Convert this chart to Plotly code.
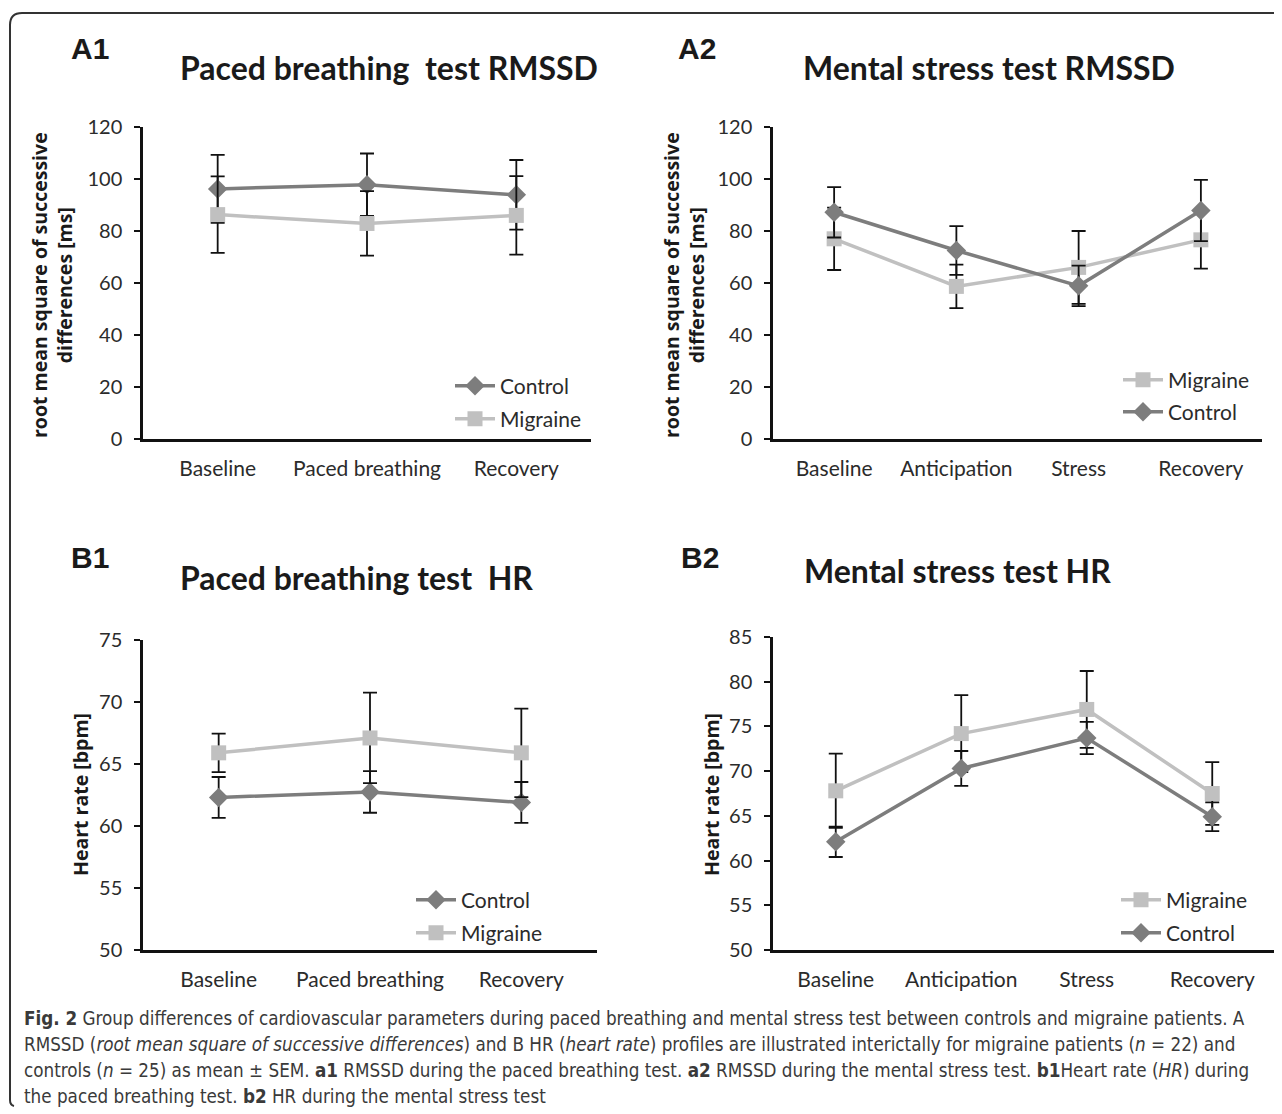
import plotly.graph_objects as go

W, H = 1282, 1114
OFF = 8  # page body margin compensation

# ---------------- data ----------------
pb_cats = ["Baseline", "Paced breathing", "Recovery"]
ms_cats = ["Baseline", "Anticipation", "Stress", "Recovery"]

a1_control = [96.2, 97.8, 93.9]
a1_control_sem = [13.1, 12.0, 13.4]
a1_migraine = [86.3, 82.9, 86.0]
a1_migraine_sem = [14.7, 12.4, 15.1]

a2_control = [87.2, 72.5, 58.9, 87.9]
a2_control_sem = [9.7, 9.4, 7.8, 11.8]
a2_migraine = [77.0, 58.7, 66.0, 76.6]
a2_migraine_sem = [12.0, 8.4, 14.0, 11.1]

b1_control = [62.3, 62.75, 61.9]
b1_control_sem = [1.65, 1.68, 1.65]
b1_migraine = [65.9, 67.1, 65.9]
b1_migraine_sem = [1.55, 3.65, 3.57]

b2_control = [62.1, 70.3, 73.7, 64.9]
b2_control_sem = [1.7, 1.95, 1.8, 1.6]
b2_migraine = [67.8, 74.2, 76.9, 67.5]
b2_migraine_sem = [4.15, 4.3, 4.3, 3.5]

rmssd_ticks = [0, 20, 40, 60, 80, 100, 120]
a_hr_ticks = [50, 55, 60, 65, 70, 75]
b_hr_ticks = [50, 55, 60, 65, 70, 75, 80, 85]

panel_titles = ["Paced breathing  test RMSSD", "Mental stress test RMSSD",
                "Paced breathing test  HR", "Mental stress test HR"]
panel_labels = ["A1", "A2", "B1", "B2"]
y_titles = ["root mean square of successive<br>differences [ms]",
            "root mean square of successive<br>differences [ms]",
            "Heart rate [bpm]", "Heart rate [bpm]"]

# ---------------- style ----------------
CTRL = "#7d7d7d"
MIGR = "#c0c0c0"
TXT = "#2b2b2b"
FONT = "Lato, Open Sans, sans-serif"


def px_x(x):
    return (x - OFF) / W


def px_y(y):
    return 1 - (y - OFF) / H


# panel boxes in pixels: (x0, x1, ytop, ybottom)
boxes = [(143, 591, 127, 439), (773, 1262, 127, 439),
         (143, 597, 640, 950), (773, 1275, 637, 950)]

fig = go.Figure()

panels = [
    (pb_cats, [("Control", a1_control, a1_control_sem), ("Migraine", a1_migraine, a1_migraine_sem)]),
    (ms_cats, [("Migraine", a2_migraine, a2_migraine_sem), ("Control", a2_control, a2_control_sem)]),
    (pb_cats, [("Control", b1_control, b1_control_sem), ("Migraine", b1_migraine, b1_migraine_sem)]),
    (ms_cats, [("Migraine", b2_migraine, b2_migraine_sem), ("Control", b2_control, b2_control_sem)]),
]
ranges = [(0, 120), (0, 120), (50, 75), (50, 85)]
ticks = [rmssd_ticks, rmssd_ticks, a_hr_ticks, b_hr_ticks]
# legend anchor (x of symbol start, y of first item, y of second item)
legend_pos = [(450, 386, 419), (1118, 380, 412), (411, 900, 933), (1116, 900, 933)]

leg_idx = 0
for i, (cats, series) in enumerate(panels):
    ax = "" if i == 0 else str(i + 1)
    for j, (name, vals, sem) in enumerate(series):
        leg_idx += 1
        lname = "legend" if leg_idx == 1 else f"legend{leg_idx}"
        is_ctrl = name == "Control"
        fig.add_trace(go.Scatter(
            x=cats, y=vals, name=name, mode="lines+markers",
            xaxis="x" + ax, yaxis="y" + ax, legend=lname,
            line=dict(color=CTRL if is_ctrl else MIGR, width=3.5),
            marker=dict(symbol="diamond" if is_ctrl else "square",
                        size=15,
                        color=CTRL if is_ctrl else MIGR),
            error_y=dict(type="data", array=sem, visible=True,
                         color="#111111", thickness=1.8, width=7),
            showlegend=True,
        ))

layout = dict(
    width=W, height=H,
    margin=dict(l=0, r=0, t=0, b=0, autoexpand=False),
    paper_bgcolor="white", plot_bgcolor="white",
    font=dict(family=FONT, color=TXT, size=20),
    annotations=[], shapes=[],
)

for i in range(4):
    ax = "" if i == 0 else str(i + 1)
    x0, x1, yt, yb = boxes[i]
    n = len(panels[i][0])
    layout["xaxis" + ax] = dict(
        domain=[px_x(x0), px_x(x1)], anchor="y" + ax,
        range=[-0.5, n - 0.5], showgrid=False, zeroline=False,
        showline=True, linecolor="#111111", linewidth=3,
        ticks="", ticklabelstandoff=9,
        tickfont=dict(size=21, color=TXT, family=FONT), fixedrange=True,
    )
    layout["yaxis" + ax] = dict(
        domain=[px_y(yb), px_y(yt)], anchor="x" + ax,
        range=list(ranges[i]), tickvals=ticks[i], showgrid=False,
        zeroline=False, showline=True, linecolor="#111111", linewidth=2.5,
        ticks="outside", ticklen=6, tickwidth=2, tickcolor="#111111",
        ticklabelstandoff=8,
        tickfont=dict(size=20, color=TXT, family=FONT), fixedrange=True,
    )
    # legends
    lx, ly1, ly2 = legend_pos[i]
    for k, ly in enumerate((ly1, ly2)):
        idx = 2 * i + k + 1
        lname = "legend" if idx == 1 else f"legend{idx}"
        layout[lname] = dict(
            x=px_x(lx), y=px_y(ly), xanchor="left", yanchor="middle",
            bgcolor="rgba(0,0,0,0)", borderwidth=0,
            font=dict(size=21, color=TXT, family=FONT),
            itemwidth=40,
        )

# panel titles, labels, y-axis titles
title_pos = [(389, 68), (989, 68), (356, 577), (957, 570)]
label_pos = [(90, 48), (697, 48), (90, 557), (700, 557)]
ytitle_pos = [(52, 285), (684, 285), (80, 795), (711, 795)]
for i in range(4):
    tx, ty = title_pos[i]
    layout["annotations"].append(dict(
        text="<b>" + panel_titles[i] + "</b>", x=px_x(tx), y=px_y(ty),
        xref="paper", yref="paper", showarrow=False,
        xanchor="center", yanchor="middle",
        font=dict(size=32, color="#1a1a1a", family=FONT)))
    lx, ly = label_pos[i]
    layout["annotations"].append(dict(
        text="<b>" + panel_labels[i] + "</b>", x=px_x(lx), y=px_y(ly),
        xref="paper", yref="paper", showarrow=False,
        xanchor="center", yanchor="middle",
        font=dict(size=30, color="#1a1a1a", family="Liberation Sans, Arial, sans-serif")))
    yx, yy = ytitle_pos[i]
    layout["annotations"].append(dict(
        text="<b>" + y_titles[i] + "</b>", x=px_x(yx), y=px_y(yy),
        xref="paper", yref="paper", showarrow=False, textangle=-90,
        xanchor="center", yanchor="middle",
        font=dict(size=19.5, color="#1a1a1a", family="Open Sans, Lato, sans-serif")))

caption_lines = [
    "<b>Fig. 2</b> Group differences of cardiovascular parameters during paced breathing and mental stress test between controls and migraine patients. A",
    "RMSSD (<i>root mean square of successive differences</i>) and B HR (<i>heart rate</i>) profiles are illustrated interictally for migraine patients (<i>n</i> = 22) and",
    "controls (<i>n</i> = 25) as mean ± SEM. <b>a1</b> RMSSD during the paced breathing test. <b>a2</b> RMSSD during the mental stress test. <b>b1</b>Heart rate (<i>HR</i>) during",
    "the paced breathing test. <b>b2</b> HR during the mental stress test",
]
cap_y = [1018, 1044, 1070, 1096]
for t, y in zip(caption_lines, cap_y):
    layout["annotations"].append(dict(
        text=t, x=px_x(22), y=px_y(y), xref="paper", yref="paper",
        showarrow=False, xanchor="left", yanchor="middle",
        font=dict(size=18.7, color="#3a3a3a",
                  family="Liberation Sans Narrow, DejaVu Sans Condensed, sans-serif")))

# rounded border (top & left sides)
path = (f"M {px_x(1300)},{px_y(13)} L {px_x(22)},{px_y(13)} "
        f"Q {px_x(10)},{px_y(13)} {px_x(10)},{px_y(25)} "
        f"L {px_x(10)},{px_y(1100)} Q {px_x(10)},{px_y(1105)} {px_x(14)},{px_y(1106)}")
layout["shapes"].append(dict(type="path", path=path, xref="paper", yref="paper",
                             line=dict(color="#333333", width=2)))

fig.update_layout(**layout)
fig.write_html("out.html")
